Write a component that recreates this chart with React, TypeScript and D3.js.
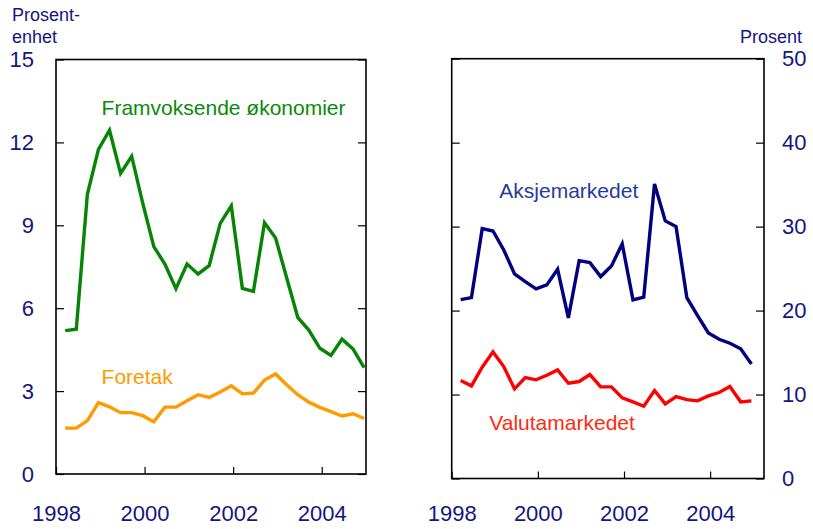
import React, { useEffect, useRef } from 'react';
import { select, scaleLinear, line, axisLeft, axisRight, axisBottom } from 'd3';

// quarterly observations 1998 K1 - 2004 K4
const years = [1998, 1999, 2000, 2001, 2002, 2003, 2004];
const quarters = years.flatMap(y => [0, 1, 2, 3].map(q => y + (q * 3 + 2.5) / 12));

const framvoksende = [
  5.19, 5.24, 10.12, 11.75, 12.44, 10.88, 11.5, 9.8, 8.23, 7.6, 6.71, 7.6, 7.24, 7.54,
  9.07, 9.7, 6.72, 6.61, 9.09, 8.54, 7.1, 5.67, 5.21, 4.55, 4.29, 4.88, 4.52, 3.85,
];
const foretak = [
  1.66, 1.66, 1.93, 2.58, 2.43, 2.22, 2.22, 2.11, 1.89, 2.42, 2.42, 2.65, 2.87, 2.77,
  2.97, 3.19, 2.9, 2.93, 3.4, 3.62, 3.23, 2.87, 2.6, 2.41, 2.26, 2.1, 2.18, 2.01,
];
const aksjemarkedet = [
  21.3, 21.55, 29.76, 29.48, 27.22, 24.37, 23.45, 22.58, 23.06, 24.92, 19.13, 25.95, 25.71, 24.05,
  25.32, 27.94, 21.27, 21.59, 35.08, 30.68, 30.0, 21.55, 19.4, 17.34, 16.58, 16.11, 15.44, 13.65,
];
const valutamarkedet = [
  11.67, 11.03, 13.25, 15.08, 13.33, 10.67, 12.02, 11.75, 12.3, 12.94, 11.35, 11.55, 12.38, 10.91,
  10.91, 9.6, 9.13, 8.61, 10.48, 8.89, 9.76, 9.4, 9.25, 9.84, 10.24, 10.95, 9.13, 9.25,
];

const xTickYears = [1998, 2000, 2002, 2004];
const leftTicks = [0, 3, 6, 9, 12, 15];
const rightTicks = [0, 10, 20, 30, 40, 50];

const FONT = '"Liberation Sans", Arial, sans-serif';
const TICK_COLOR = '#15157f';

const App = () => {
  const svgRef = useRef(null);

  useEffect(() => {
    const svg = select(svgRef.current);
    svg.selectAll('*').remove();

    const drawPanel = (p) => {
      const g = svg.append('g');
      const x = scaleLinear().domain(p.xDomain).range(p.xRange);
      const y = scaleLinear().domain(p.yDomain).range(p.yRange);

      // frame
      g.append('rect')
        .attr('x', p.xRange[0])
        .attr('y', p.yRange[1])
        .attr('width', p.xRange[1] - p.xRange[0])
        .attr('height', p.yRange[0] - p.yRange[1])
        .attr('fill', 'none')
        .attr('stroke', '#000')
        .attr('stroke-width', 1.6);

      const labelled = p.labelSide === 'left';
      const yLeft = axisLeft(y).tickValues(p.yTicks).tickSizeInner(-8).tickSizeOuter(0)
        .tickPadding(22).tickFormat(labelled ? (d) => String(d) : () => '');
      const yRight = axisRight(y).tickValues(p.yTicks).tickSizeInner(-8).tickSizeOuter(0)
        .tickPadding(18).tickFormat(!labelled ? (d) => String(d) : () => '');
      const xAxis = axisBottom(x).tickValues(xTickYears).tickSizeInner(-7).tickSizeOuter(0)
        .tickPadding(p.xPadding).tickFormat((d) => String(d));

      [
        g.append('g').attr('transform', `translate(${p.xRange[0]},0)`).call(yLeft),
        g.append('g').attr('transform', `translate(${p.xRange[1]},0)`).call(yRight),
        g.append('g').attr('transform', `translate(0,${p.yRange[0]})`).call(xAxis),
      ].forEach((ax) => {
        ax.select('.domain').remove();
        ax.attr('font-family', FONT).attr('font-size', 22);
        ax.selectAll('line').attr('stroke', '#000').attr('stroke-width', 1.2);
        ax.selectAll('text').attr('fill', TICK_COLOR);
      });

      const path = line().x((d, i) => x(quarters[i])).y((d) => y(d));
      p.series.forEach((s) => {
        g.append('path')
          .datum(s.values)
          .attr('d', path)
          .attr('fill', 'none')
          .attr('stroke', s.color)
          .attr('stroke-width', 3.4)
          .attr('stroke-linejoin', 'miter');

        g.append('text')
          .attr('x', x(s.label[0]))
          .attr('y', y(s.label[1]))
          .attr('font-family', FONT)
          .attr('font-size', 21)
          .attr('fill', s.textColor)
          .text(s.name);
      });
    };

    drawPanel({
      xDomain: [1998, 2005],
      xRange: [56, 366],
      yDomain: [0, 15],
      yRange: [474, 59.5],
      yTicks: leftTicks,
      labelSide: 'left',
      xPadding: 31,
      series: [
        { name: 'Framvoksende økonomier', values: framvoksende, color: '#058405', textColor: '#0a8a0a', label: [1999.03, 12.98] },
        { name: 'Foretak', values: foretak, color: '#ff9a00', textColor: '#ff9a00', label: [1999.03, 3.24] },
      ],
    });

    drawPanel({
      xDomain: [1998, 2005.25],
      xRange: [451.7, 764],
      yDomain: [0, 50],
      yRange: [478.5, 58.7],
      yTicks: rightTicks,
      labelSide: 'right',
      xPadding: 27,
      series: [
        { name: 'Aksjemarkedet', values: aksjemarkedet, color: '#000080', textColor: '#1f3c9c', label: [1999.106, 33.37] },
        { name: 'Valutamarkedet', values: valutamarkedet, color: '#ff0000', textColor: '#ff2a10', label: [1998.873, 5.78] },
      ],
    });

    // unit captions
    const caption = svg.append('g').attr('font-family', FONT).attr('font-size', 18).attr('fill', TICK_COLOR);
    caption.append('text').attr('x', 12).attr('y', 21).text('Prosent-');
    caption.append('text').attr('x', 12).attr('y', 43).text('enhet');
    caption.append('text').attr('x', 802).attr('y', 43).attr('text-anchor', 'end').text('Prosent');
  }, []);

  return (
    <svg
      ref={svgRef}
      width={813}
      height={529}
      viewBox="0 0 813 529"
      style={{ position: 'absolute', left: 0, top: 0, background: '#fff' }}
    />
  );
};

export default App;
